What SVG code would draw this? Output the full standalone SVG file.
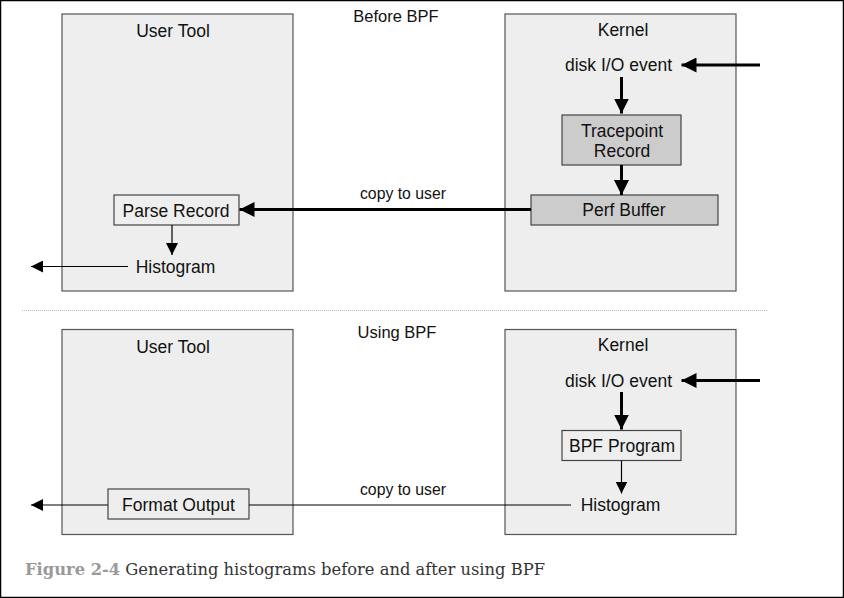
<svg xmlns="http://www.w3.org/2000/svg" width="844" height="598" viewBox="0 0 844 598">
<defs>
<marker id="ah" viewBox="0 0 10 10" refX="10" refY="5" markerWidth="12" markerHeight="12" markerUnits="userSpaceOnUse" orient="auto"><path d="M0,0 L10,5 L0,10 z" fill="#000"/></marker>
<marker id="ahb" viewBox="0 0 10 10" refX="10" refY="5" markerWidth="15" markerHeight="15" markerUnits="userSpaceOnUse" orient="auto"><path d="M0,0 L10,5 L0,10 z" fill="#000"/></marker>
</defs>
<style>
.panel{fill:#eeeeee;stroke:#555;stroke-width:1.2}
.box{fill:#eeeeee;stroke:#444;stroke-width:1.2}
.dark{fill:#cccccc;stroke:#444;stroke-width:1.2}
text{font-family:"Liberation Sans",Arial,sans-serif;font-size:17.5px;fill:#111;text-anchor:middle}
.lbl{font-size:15.8px}
.thin{stroke:#000;stroke-width:1.2;fill:none}
.thick{stroke:#000;stroke-width:3;fill:none}
</style>
<rect x="0.5" y="0.5" width="843" height="597" fill="#fff" stroke="#000" stroke-width="1.5"/>
<text x="396" y="22" style="font-size:16.5px">Before BPF</text>
<text x="397" y="338" style="font-size:16.5px">Using BPF</text>
<line x1="22" y1="310.5" x2="767" y2="310.5" stroke="#bbb" stroke-width="1" stroke-dasharray="1,1"/>
<g id="user-top"><rect class="panel" x="62" y="14" width="231" height="277"/><text x="173" y="36.5">User Tool</text></g>
<g id="kernel-top"><rect class="panel" x="505" y="14" width="231" height="277"/><text x="623" y="35.5">Kernel</text></g>
<g id="disk-top"><text x="618.5" y="71">disk I/O event</text></g>
<g id="tracepoint"><rect class="dark" x="562" y="115" width="119" height="50"/><text x="622" y="137">Tracepoint</text><text x="622" y="156.5">Record</text></g>
<g id="perfbuf"><rect class="dark" x="531" y="195" width="187" height="30"/><text x="624" y="216">Perf Buffer</text></g>
<g id="parse"><rect class="box" x="114" y="195" width="125" height="30"/><text x="176" y="216.5">Parse Record</text></g>
<g id="hist-top"><text x="175.5" y="273">Histogram</text></g>
<g id="user-bot"><rect class="panel" x="62" y="329.5" width="231" height="205"/><text x="173" y="353">User Tool</text></g>
<g id="kernel-bot"><rect class="panel" x="505" y="329.5" width="231" height="205"/><text x="623" y="350.5">Kernel</text></g>
<g id="disk-bot"><text x="618.5" y="387">disk I/O event</text></g>
<g id="bpfprog"><rect class="box" x="562" y="430.5" width="119" height="30"/><text x="622" y="452">BPF Program</text></g>
<g id="hist-bot"><text x="620.5" y="511">Histogram</text></g>
<g id="format"><rect class="box" x="108" y="489" width="141" height="30"/><text x="178.5" y="510.5">Format Output</text></g>
<g id="connectors">
<line class="thick" x1="760" y1="65" x2="681.5" y2="65" marker-end="url(#ahb)"/>
<line class="thick" x1="621.5" y1="77" x2="621.5" y2="113.5" marker-end="url(#ahb)"/>
<line class="thick" x1="621.5" y1="165" x2="621.5" y2="195" marker-end="url(#ahb)"/>
<line class="thick" x1="531" y1="209.5" x2="239.5" y2="209.5" marker-end="url(#ahb)"/>
<text x="403" y="198.5" class="lbl">copy to user</text>
<line class="thin" x1="172" y1="225" x2="172" y2="255" marker-end="url(#ah)"/>
<line class="thin" x1="128" y1="266.5" x2="31" y2="266.5" marker-end="url(#ah)"/>
<line class="thick" x1="760" y1="380.5" x2="681.5" y2="380.5" marker-end="url(#ahb)"/>
<line class="thick" x1="621.5" y1="392" x2="621.5" y2="429.5" marker-end="url(#ahb)"/>
<line class="thin" x1="621.5" y1="460.5" x2="621.5" y2="493.5" marker-end="url(#ah)"/>
<line class="thin" x1="571" y1="505" x2="249" y2="505"/>
<text x="403" y="494.5" class="lbl">copy to user</text>
<line class="thin" x1="108" y1="505" x2="31" y2="505" marker-end="url(#ah)"/>
</g>
<text x="25" y="575" style="text-anchor:start;font-family:'DejaVu Serif','Liberation Serif',serif;font-size:16.5px;fill:#333" textLength="520" lengthAdjust="spacingAndGlyphs"><tspan style="font-weight:bold;fill:#999">Figure 2-4</tspan> Generating histograms before and after using BPF</text>
</svg>
